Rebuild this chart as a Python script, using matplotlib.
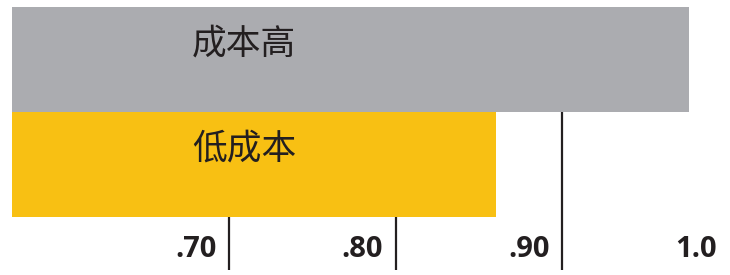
import matplotlib
matplotlib.use("Agg")
from matplotlib import pyplot as plt

categories = ["低成本", "成本高"]
values = [0.86, 0.976]
bar_colors = ["#F8C013", "#ABACB0"]
tick_values = [0.70, 0.80, 0.90, 1.0]
tick_labels = [".70", ".80", ".90", "1.0"]

ink = "#231F20"

fig = plt.figure(figsize=(7.3, 2.75), dpi=100)
ax = fig.add_axes([12 / 730, 5 / 275, 717 / 730, 263 / 275])
ax.set_xlim(0.57, 1.0)
ax.set_ylim(-1.0, 1.5)
ax.axis("off")

# vertical guide lines sit behind the bars (none drawn at 1.0)
for t in tick_values[:-1]:
    ax.axvline(t, color=ink, lw=1.6, zorder=1)

ypos = list(range(len(categories)))
ax.barh(ypos, [v - 0.57 for v in values], left=0.57, height=1.0,
        color=bar_colors, zorder=2)

for y, name in zip(ypos, categories):
    ax.text(0.678, y + 0.15, name, ha="left", va="center", fontsize=25,
            fontweight="light", color=ink,
            family=["Noto Sans CJK SC", "DejaVu Sans"], zorder=3)

for t, lab in zip(tick_values, tick_labels):
    ax.annotate(lab, xy=(t, -0.5), xytext=(-9, -23), textcoords="offset points",
                ha="right", va="center", fontsize=21, fontweight="bold",
                color=ink, family="Open Sans", annotation_clip=False)

fig.savefig("out.png", dpi=100)
